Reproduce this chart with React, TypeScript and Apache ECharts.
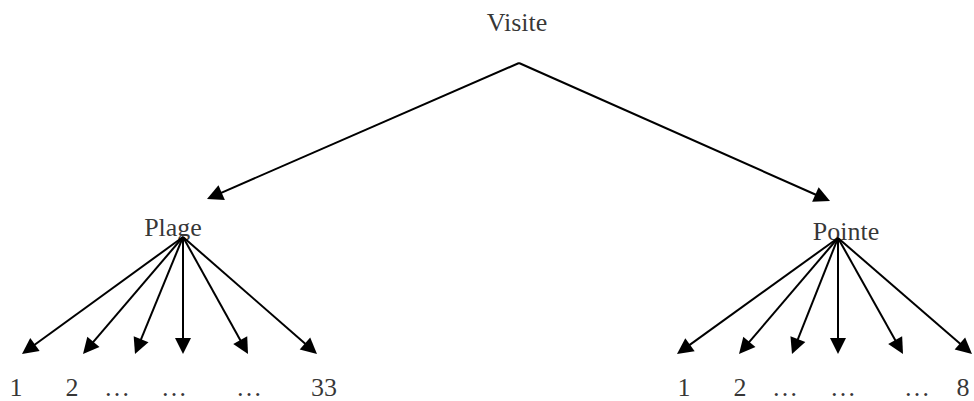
import React, { useEffect, useRef } from "react";
import * as echarts from "echarts";

// ---- content ----
const rootLabel = "Visite";
const branchLabels = ["Plage", "Pointe"];
const leafLabels = [
  ["1", "2", "…", "…", "…", "33"],
  ["1", "2", "…", "…", "…", "8"],
];

// ---- layout (diagram coordinates, px) ----
const rootLabelPos = [517, 22];
const rootAnchor = [519, 63];
const branchLabelPos = [
  [173, 227],
  [846, 231],
];
const branchArrowTips = [
  [207, 199],
  [830, 201],
];
const branchAnchors = [
  [183, 237],
  [838, 238],
];
const leafArrowTipX = [
  [22, 83, 135, 183, 248, 317],
  [677, 739, 792, 838, 903, 972],
];
const leafArrowTipY = 354;
const leafLabelX = [
  [16, 72, 117, 174, 249, 324],
  [684, 740, 785, 843, 917, 963],
];
const leafLabelY = 387;

const W = 974;
const H = 401;
const HEAD_LEN = 16;
const HEAD_W = 15;

function shorten(from: number[], tip: number[]) {
  const dx = tip[0] - from[0];
  const dy = tip[1] - from[1];
  const d = Math.sqrt(dx * dx + dy * dy);
  const k = (d - HEAD_LEN / 2) / d;
  return [from[0] + dx * k, from[1] + dy * k];
}

export default function App() {
  const ref = useRef<HTMLDivElement>(null);
  useEffect(() => {
    if (!ref.current) return;
    const chart = echarts.init(ref.current, undefined, { renderer: "svg" });

    const edges: any[] = [];
    branchArrowTips.forEach((tip) => {
      edges.push({ coords: [rootAnchor, shorten(rootAnchor, tip)] });
    });
    leafArrowTipX.forEach((xs, b) => {
      xs.forEach((x) => {
        const tip = [x, leafArrowTipY];
        edges.push({ coords: [branchAnchors[b], shorten(branchAnchors[b], tip)] });
      });
    });

    const labels: any[] = [];
    labels.push({ name: rootLabel, value: rootLabelPos });
    branchLabels.forEach((n, i) => labels.push({ name: n, value: branchLabelPos[i] }));
    leafLabels.forEach((arr, b) =>
      arr.forEach((n, i) => labels.push({ name: n, value: [leafLabelX[b][i], leafLabelY] }))
    );

    chart.setOption({
      animation: false,
      backgroundColor: "#ffffff",
      grid: { left: 0, top: 0, right: 0, bottom: 0 },
      xAxis: { type: "value", min: 0, max: W, show: false },
      yAxis: { type: "value", min: 0, max: H, inverse: true, show: false },
      series: [
        {
          type: "lines",
          coordinateSystem: "cartesian2d",
          symbol: ["none", "triangle"],
          symbolSize: [HEAD_W, HEAD_LEN],
          lineStyle: { color: "#000", width: 2, opacity: 1 },
          data: edges,
          silent: true,
          z: 1,
        },
        {
          type: "scatter",
          symbolSize: 0,
          data: labels,
          silent: true,
          z: 2,
          label: {
            show: true,
            position: "inside",
            formatter: (p: any) => p.name,
            color: "#000",
            fontFamily: "Liberation Serif",
            fontSize: 26,
          },
        },
      ],
    });
    return () => chart.dispose();
  }, []);
  return (
    <div
      ref={ref}
      style={{ position: "absolute", left: 0, top: 0, width: W, height: H, background: "#fff" }}
    />
  );
}
